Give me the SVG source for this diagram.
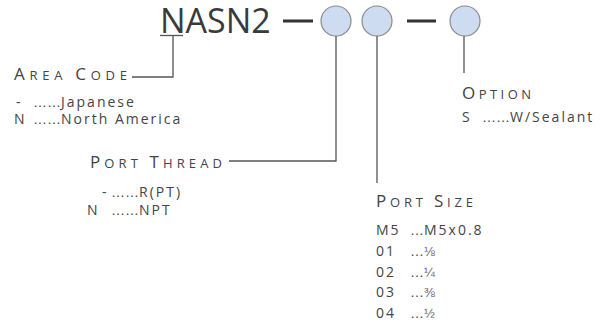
<svg xmlns="http://www.w3.org/2000/svg" width="614" height="326" viewBox="0 0 614 326">
<style>
text{font-family:"Open Sans","Liberation Sans",sans-serif;fill:#444;font-weight:400}
.big{font-size:34px;fill:#3a3a3a}
.lbl{font-size:17px}
.sc{font-size:13px}
.b{font-size:14px;letter-spacing:2px}
.d{font-family:"Liberation Sans",sans-serif;font-size:14px;letter-spacing:0}
.fr{font-family:"Liberation Sans",sans-serif;font-size:13px;fill:#666;letter-spacing:0}
.ln{stroke:#555;stroke-width:1.3;fill:none}
.dash{stroke:#333;stroke-width:3}
.dot{fill:#cddcf1;stroke:#8a8a8a;stroke-width:1.2}
</style>
<g id="code">
<text class="big" x="160" y="33">NASN2</text>
<line class="ln" x1="160" y1="35.5" x2="183" y2="35.5"/>
<line class="dash" x1="283" y1="21" x2="313" y2="21"/>
<circle id="c1" class="dot" cx="336" cy="21" r="15"/>
<circle id="c2" class="dot" cx="377" cy="21" r="15"/>
<line class="dash" x1="407" y1="21" x2="436" y2="21"/>
<circle id="c3" class="dot" cx="465" cy="21" r="15"/>
</g>
<g id="connectors">
<polyline class="ln" points="173,36 173,77 132,77"/>
<polyline class="ln" points="336,36 336,161 229,161"/>
<line class="ln" x1="377" y1="36" x2="377" y2="183"/>
<line class="ln" x1="464" y1="36" x2="464" y2="73"/>
</g>
<g id="area-code">
<text class="lbl" x="14" y="80" textLength="113" lengthAdjust="spacing">A<tspan class="sc">REA </tspan>C<tspan class="sc">ODE</tspan></text>
<text class="b" y="107"><tspan x="16">-</tspan><tspan x="33" class="d">……</tspan>Japanese</text>
<text class="b" y="124"><tspan x="14">N</tspan><tspan x="33" class="d">……</tspan>North America</text>
</g>
<g id="port-thread">
<text class="lbl" x="90" y="168" textLength="132" lengthAdjust="spacing">P<tspan class="sc">ORT </tspan>T<tspan class="sc">HREAD</tspan></text>
<text class="b" y="197"><tspan x="102">-</tspan><tspan x="111" class="d">……</tspan>R(PT)</text>
<text class="b" y="215"><tspan x="87">N</tspan><tspan x="111" class="d">……</tspan>NPT</text>
</g>
<g id="port-size">
<text class="lbl" x="376" y="207" textLength="97" lengthAdjust="spacing">P<tspan class="sc">ORT </tspan>S<tspan class="sc">IZE</tspan></text>
<text class="b" y="235"><tspan x="376">M5</tspan><tspan x="410" class="d">…</tspan>M5x0.8</text>
<text class="b" y="256"><tspan x="376">01</tspan><tspan x="410" class="d">…</tspan><tspan class="fr">⅛</tspan></text>
<text class="b" y="277"><tspan x="376">02</tspan><tspan x="410" class="d">…</tspan><tspan class="fr">¼</tspan></text>
<text class="b" y="297"><tspan x="376">03</tspan><tspan x="410" class="d">…</tspan><tspan class="fr">⅜</tspan></text>
<text class="b" y="318"><tspan x="376">04</tspan><tspan x="410" class="d">…</tspan><tspan class="fr">½</tspan></text>
</g>
<g id="option">
<text class="lbl" x="462" y="99" textLength="69" lengthAdjust="spacing">O<tspan class="sc">PTION</tspan></text>
<text class="b" y="122"><tspan x="462">S</tspan><tspan x="482" class="d">……</tspan>W/Sealant</text>
</g>
</svg>
